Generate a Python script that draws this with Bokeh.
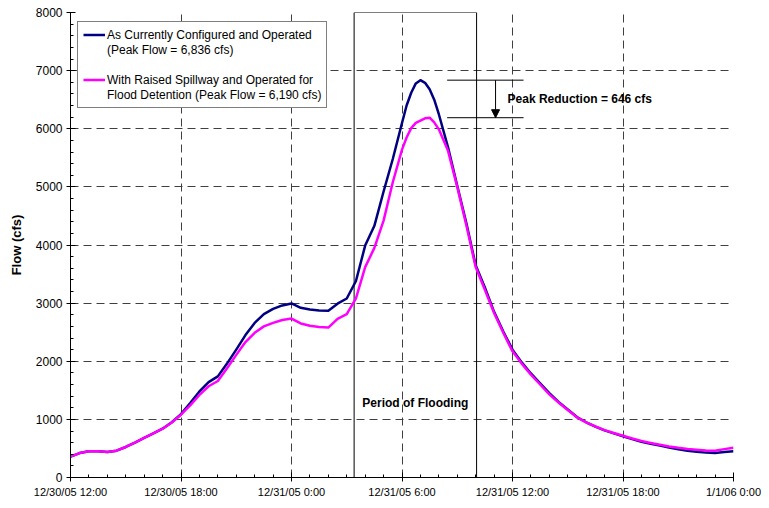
from bokeh.plotting import figure
from bokeh.models import (Range1d, FixedTicker, Legend, LegendItem, Label, Arrow,
                          NormalHead, ColumnDataSource)
from bokeh.embed import file_html
from bokeh.resources import INLINE

# ---------------- data ----------------
# hours after 12/30/05 12:00 (half-hour steps, quarter-hour steps around the peak)
hours = ([i * 0.5 for i in range(37)]
         + [18.25, 18.5, 18.75, 19.0, 19.25, 19.5, 19.75, 20.0]
         + [20.5 + i * 0.5 for i in range(32)])

current_flow = [
    360, 420, 450, 452, 438, 462, 525, 600, 680, 760, 840, 950,
    1090, 1280, 1480, 1640, 1740, 1960, 2200, 2450, 2660, 2810, 2900, 2960,
    2995, 2920, 2890, 2875, 2870, 2990, 3080, 3380, 3990, 4330, 4920, 5480,
    6100,
    6400, 6620, 6780, 6836, 6790, 6680, 6500, 6250,
    5680, 5020, 4370, 3650, 3270, 2850, 2510, 2200, 1980, 1790, 1620, 1450,
    1300, 1170, 1040, 950, 875, 810, 760, 710, 660, 615, 580, 550,
    515, 485, 462, 445, 428, 420, 438, 452,
]

raised_flow = [
    360, 420, 450, 452, 438, 462, 525, 600, 680, 760, 840, 945,
    1080, 1240, 1420, 1570, 1660, 1880, 2110, 2330, 2490, 2600, 2660, 2710,
    2735, 2650, 2610, 2590, 2580, 2730, 2810, 3080, 3620, 3950, 4420, 5080,
    5640,
    5850, 6010, 6100, 6140, 6180, 6190, 6110, 5990,
    5620, 5000, 4330, 3620, 3230, 2830, 2490, 2170, 1960, 1770, 1600, 1430,
    1290, 1160, 1035, 950, 878, 815, 765, 718, 672, 628, 595, 565,
    535, 510, 490, 478, 466, 462, 488, 512,
]

tick_hours = [0, 6, 12, 18, 24, 30, 36]
tick_labels = ["12/30/05 12:00", "12/30/05 18:00", "12/31/05 0:00", "12/31/05 6:00",
               "12/31/05 12:00", "12/31/05 18:00", "1/1/06 0:00"]

peak_current = 6836
peak_raised = 6190
flood_start = 15.4   # hours
flood_end = 22.05    # hours

FONT = "Liberation Sans"

W, H = 761, 500
FL, FR, FT, FB = 70, 733, 12, 478   # frame edges in figure pixels

p = figure(width=W, height=H, output_backend="svg", toolbar_location=None,
           x_range=Range1d(0, 36), y_range=Range1d(0, 8000),
           min_border_left=FL, min_border_right=W - FR, min_border_top=FT,
           min_border_bottom=H - FB)
p.outline_line_color = None
p.background_fill_color = "white"
p.border_fill_color = "white"

# axes
p.xaxis.ticker = FixedTicker(ticks=tick_hours, minor_ticks=list(range(37)))
p.xaxis.major_label_overrides = {t: l for t, l in zip(tick_hours, tick_labels)}
p.yaxis.ticker = FixedTicker(ticks=list(range(0, 8001, 1000)),
                             minor_ticks=list(range(0, 8001, 200)))
p.yaxis.axis_label = "Flow (cfs)"
for ax in (p.xaxis, p.yaxis):
    ax.axis_line_color = "black"
    ax.axis_line_width = 1
    ax.major_tick_line_color = "black"
    ax.minor_tick_line_color = "black"
    ax.major_tick_in = 5
    ax.major_tick_out = 4
    ax.minor_tick_in = 3
    ax.minor_tick_out = 0
    ax.major_label_text_font = FONT
    ax.major_label_text_color = "black"
p.xaxis.major_label_text_font_size = "11px"
p.yaxis.major_label_text_font_size = "12px"
p.xaxis.major_label_standoff = 4
p.yaxis.major_label_standoff = 4
p.yaxis.axis_label_text_font = FONT
p.yaxis.axis_label_text_font_style = "bold"
p.yaxis.axis_label_text_font_size = "13px"
p.yaxis.axis_label_text_color = "black"
p.yaxis.axis_label_standoff = 9

# grids
for g in (p.xgrid, p.ygrid):
    g.grid_line_color = "#404040"
    g.grid_line_dash = "8 5"
    g.grid_line_width = 1
p.xgrid.ticker = FixedTicker(ticks=tick_hours)
p.ygrid.ticker = FixedTicker(ticks=list(range(0, 8001, 1000)))

# flood period box
p.quad(left=[flood_start], right=[flood_end], bottom=[0], top=[8000],
       fill_color=None, line_color="black", line_width=1)
p.add_layout(Label(x=(flood_start + flood_end) / 2, y=1280, text="Period of Flooding",
                   text_align="center", text_baseline="middle", text_font=FONT,
                   text_font_style="bold", text_font_size="12px", text_color="black"))

# data lines
src = ColumnDataSource(dict(h=hours, cur=current_flow, ras=raised_flow))
r_cur = p.line("h", "cur", source=src, line_color="#000080", line_width=2.5,
               line_join="round")
r_ras = p.line("h", "ras", source=src, line_color="#FF00FF", line_width=2.5,
               line_join="round")

# peak reduction annotation
p.segment(x0=[20.45, 20.45], x1=[24.6, 24.6], y0=[peak_current, peak_raised],
          y1=[peak_current, peak_raised], line_color="black", line_width=1)
p.add_layout(Arrow(end=NormalHead(size=8, fill_color="black", line_color="black"),
                   x_start=23.08, y_start=peak_current, x_end=23.08, y_end=peak_raised,
                   line_color="black", line_width=1))
p.add_layout(Label(x=23.73, y=(peak_current + peak_raised) / 2,
                   text="Peak Reduction = %d cfs" % (peak_current - peak_raised),
                   text_baseline="middle", text_font=FONT, text_font_style="bold",
                   text_font_size="12px", text_color="black"))

# legend
dummy = p.line(x=[], y=[], line_alpha=0)
items = [
    LegendItem(label="As Currently Configured and Operated", renderers=[r_cur]),
    LegendItem(label="(Peak Flow = 6,836 cfs)", renderers=[dummy]),
    LegendItem(label=" ", renderers=[dummy]),
    LegendItem(label="With Raised Spillway and Operated for", renderers=[r_ras]),
    LegendItem(label="Flood Detention (Peak Flow = 6,190 cfs)", renderers=[dummy]),
]
legend_top = 24
legend_h = 5 * 15 + 2 * 5
legend = Legend(items=items, location=(7, FB - legend_top - legend_h), margin=0,
                padding=5, spacing=0,
                glyph_width=22, glyph_height=15, label_height=15, label_standoff=2,
                label_text_font=FONT, label_text_font_size="12px",
                label_text_color="black", border_line_color="black",
                border_line_width=1, background_fill_alpha=1.0)
p.add_layout(legend)

open("out.html", "w").write(file_html(p, INLINE))
